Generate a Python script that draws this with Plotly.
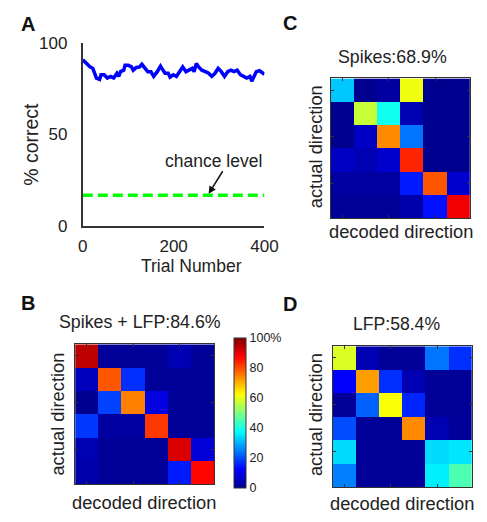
import plotly.graph_objects as go

W, H = 487, 522
FONT = "Arial, Liberation Sans, sans-serif"

# ---------------- data ----------------
trial = [0, 7, 15, 22, 30, 37, 40, 47, 54, 61, 68, 75, 79, 83, 90, 93, 100, 107, 111, 118,
         125, 130, 136, 143, 150, 156, 164, 171, 174, 181, 188, 192, 199, 206, 213, 220, 227,
         234, 241, 245, 250, 255, 262, 270, 277, 284, 291, 298, 305, 312, 319, 326, 333, 340,
         347, 354, 361, 368, 372, 377, 382, 389, 396, 400]
pct_correct = [90.7, 89, 87, 86, 80.7, 80, 82.5, 82.5, 80.7, 81.6, 80.7, 83.3, 81.6, 84.2, 85,
               87.7, 87.7, 86.8, 85, 86.5, 86.8, 88.2, 86, 84.2, 84.2, 81.6, 84.2, 87.2, 86,
               83.3, 83.3, 81.2, 82.5, 81.6, 84.2, 86.8, 84.2, 85, 86, 84.2, 88.6, 86.8, 85,
               84.2, 83.3, 81.6, 83.3, 86, 84.2, 81.6, 84.2, 85, 84.2, 85, 82.5, 81.6, 80.7,
               81.6, 79, 81.6, 84.2, 84.7, 83.3, 82.8]
chance_x = [0, 400]
chance_y = [16.7, 16.7]

conf_both = [  # Spikes + LFP: 84.6%
    [94, 1, 1, 1, 4, 1],
    [5, 79, 17, 1, 1, 1],
    [0, 19, 75, 9, 1, 1],
    [18, 2, 2, 82, 1, 1],
    [4, 1, 1, 1, 91, 8],
    [3, 1, 1, 1, 15, 87],
]
conf_spikes = [  # Spikes: 68.9%
    [32, 0, 2, 61, 0, 0],
    [0, 57, 39, 4, 0, 0],
    [0, 6, 74, 24, 0, 0],
    [6, 4, 7, 84, 0, 0],
    [2, 2, 2, 15, 79, 7],
    [1, 1, 1, 3, 14, 89],
]
conf_lfp = [  # LFP: 58.4%
    [59, 4, 1, 1, 24, 17],
    [12, 72, 17, 4, 1, 1],
    [1, 22, 62, 16, 1, 1],
    [20, 1, 1, 74, 4, 1],
    [34, 1, 1, 1, 34, 35],
    [25, 1, 1, 1, 36, 45],
]
cbar_ticks = [0, 20, 40, 60, 80, 100]
cbar_labels = ["0", "20", "40", "60", "80", "100%"]
cells = [0, 1, 2, 3, 4, 5]

jet = [[0.0, "rgb(0,0,143)"], [0.125, "rgb(0,0,255)"], [0.375, "rgb(0,255,255)"],
       [0.625, "rgb(255,255,0)"], [0.875, "rgb(255,0,0)"], [1.0, "rgb(128,0,0)"]]


def px(x, y):
    return x / W, 1 - y / H


def xdom(a, b):
    return [a / W, min(1.0, b / W)]


def ydom(top, bottom):
    return [1 - bottom / H, 1 - top / H]


fig = go.Figure()

# Panel A
fig.add_trace(go.Scatter(x=trial, y=pct_correct, mode="lines",
                         line=dict(color="rgb(0,0,255)", width=3.5),
                         xaxis="x", yaxis="y", showlegend=False))
fig.add_trace(go.Scatter(x=chance_x, y=chance_y, mode="lines",
                         line=dict(color="rgb(0,255,0)", width=3.5, dash="10px,5px"),
                         xaxis="x", yaxis="y", showlegend=False))

# Heatmaps
cb_x, cb_y = px(238, 497)
fig.add_trace(go.Heatmap(z=conf_both, x=cells, y=cells, colorscale=jet, zmin=0, zmax=100,
                         xaxis="x2", yaxis="y2", showscale=True,
                         colorbar=dict(x=cb_x, xanchor="left", xpad=0, ypad=0,
                                       thickness=12, thicknessmode="pixels",
                                       len=156 / H, lenmode="fraction",
                                       y=cb_y, yanchor="bottom",
                                       tickvals=cbar_ticks, ticktext=cbar_labels,
                                       ticks="", outlinecolor="#333", outlinewidth=1,
                                       tickfont=dict(family=FONT, size=12.5, color="#222"))))
fig.add_trace(go.Heatmap(z=conf_spikes, x=cells, y=cells, colorscale=jet, zmin=0, zmax=100,
                         xaxis="x3", yaxis="y3", showscale=False))
fig.add_trace(go.Heatmap(z=conf_lfp, x=cells, y=cells, colorscale=jet, zmin=0, zmax=100,
                         xaxis="x4", yaxis="y4", showscale=False))

tickfont = dict(family=FONT, size=17, color="#222")
layout = dict(
    width=W, height=H, autosize=False, margin=dict(l=0, r=0, t=0, b=0),
    paper_bgcolor="white", plot_bgcolor="white", showlegend=False,
    xaxis=dict(domain=xdom(81, 270), range=[0, 400], tickvals=[0, 200, 400],
               showline=True, linecolor="#333", linewidth=2, ticks="", showgrid=False,
               zeroline=False, tickfont=tickfont, anchor="y", ticklabelstandoff=4),
    yaxis=dict(domain=ydom(35, 225), range=[0, 100], tickvals=[0, 50, 100],
               showline=True, linecolor="#333", linewidth=2, ticks="", showgrid=False,
               zeroline=False, tickfont=tickfont, anchor="x", ticklabelstandoff=10),
)

mats = [("2", (73, 218), (348, 493)), ("3", (339, 484), (72, 217)), ("4", (341, 486), (350, 496))]
for k, (x0, x1), (y0, y1) in mats:
    layout["xaxis" + k] = dict(domain=xdom(x0, x1), range=[-0.5, 5.5], anchor="y" + k,
                               showline=True, mirror="ticks", linecolor="#333", linewidth=1,
                               ticks="inside", ticklen=3, tickcolor="#333", tickvals=[0, 2, 4],
                               showticklabels=False, showgrid=False, zeroline=False)
    layout["yaxis" + k] = dict(domain=ydom(y0, y1), range=[5.5, -0.5], anchor="x" + k,
                               showline=True, mirror="ticks", linecolor="#333", linewidth=1,
                               ticks="inside", ticklen=3, tickcolor="#333", tickvals=[0, 2, 4],
                               showticklabels=False, showgrid=False, zeroline=False)
fig.update_layout(**layout)


def label(text, x, y, size, bold=False, angle=0):
    xx, yy = px(x, y)
    fig.add_annotation(text=f"<b>{text}</b>" if bold else text, x=xx, y=yy,
                       xref="paper", yref="paper", showarrow=False, textangle=angle,
                       xanchor="center", yanchor="middle",
                       font=dict(family=FONT, size=size, color="#111" if bold else "#222"))


label("A", 24, 16, 20, bold=True)
label("C", 297, 15, 20, bold=True)
label("B", 24, 305, 20, bold=True)
label("D", 297, 306, 20, bold=True)

label("% correct", 27, 140, 19.5, angle=-90)
label("Trial Number", 194, 267, 17.5)
label("chance level", 217, 158, 17.5)

label("Spikes:68.9%", 403, 50, 17.8)
label("actual direction", 323, 143, 18.3, angle=-90)
label("decoded direction", 412, 231, 18.3)

label("Spikes + LFP:84.6%", 140, 325, 17.8)
label("actual direction", 55, 420, 18.3, angle=-90)
label("decoded direction", 145, 512, 18.3)

label("LFP:58.4%", 407, 327, 17.6)
label("actual direction", 323, 421, 18.3, angle=-90)
label("decoded direction", 413, 513, 18.3)

# arrow for chance level
fig.add_annotation(x=277, y=17.5, xref="x", yref="y", ax=15, ay=-24, axref="pixel",
                   ayref="pixel", text="", showarrow=True, arrowhead=2, arrowsize=1,
                   arrowwidth=1.5, arrowcolor="#111")

fig.write_html("out.html",
               config={"responsive": False, "displayModeBar": False},
               post_script="document.body.style.margin='0';document.body.style.overflow='hidden';")
